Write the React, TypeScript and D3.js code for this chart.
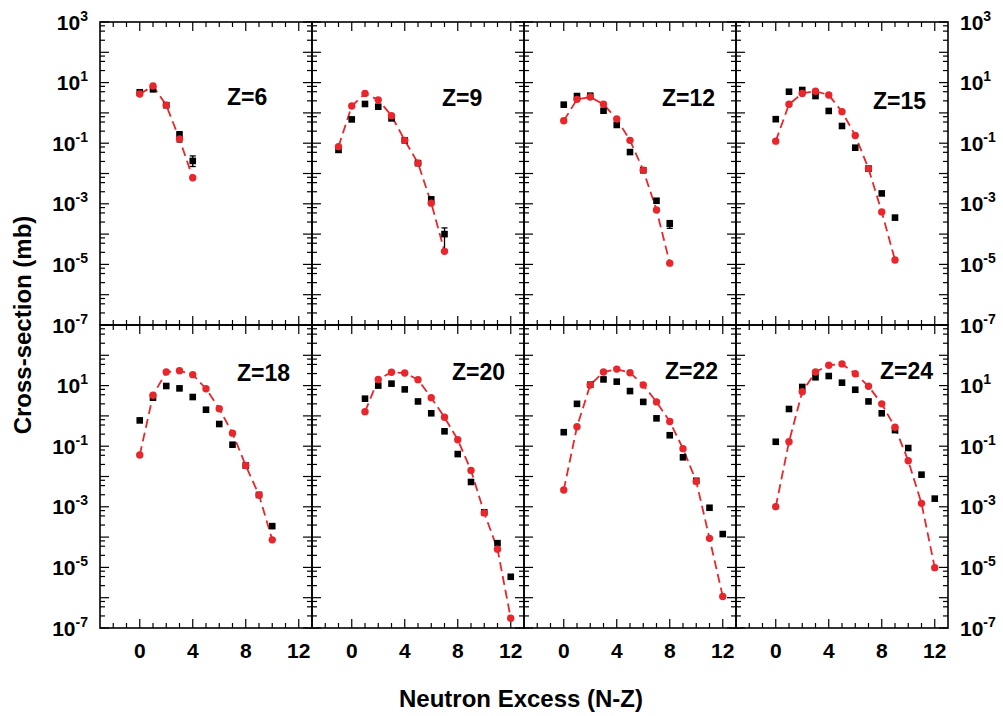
import React from "react";
import * as d3 from "d3";

// ---------- data ----------
const zLabels = [6, 9, 12, 15, 18, 20, 22, 24];
const startN = [0, -1, 0, 0, 0, 1, 0, 0];

const expZ6 = [4.8, 6.0, 1.8, 0.19, 0.026];
const calcZ6 = [4.2, 7.7, 1.8, 0.138, 0.0072];
const expZ9 = [0.06, 0.61, 1.97, 1.6, 0.66, 0.124, 0.022, 0.0014, 1.0e-4];
const calcZ9 = [0.077, 1.69, 4.4, 2.7, 0.81, 0.124, 0.022, 0.00105, 2.7e-5];
const expZ12 = [1.87, 3.6, 3.7, 1.18, 0.4, 0.051, 0.0128, 0.00126, 2.2e-4];
const calcZ12 = [0.55, 2.8, 3.35, 1.92, 0.63, 0.124, 0.0128, 6.3e-4, 1.1e-5];
const expZ15 = [0.62, 5.0, 5.7, 3.6, 1.16, 0.37, 0.071, 0.0145, 0.0022, 3.5e-4];
const calcZ15 = [0.117, 1.92, 4.4, 5.2, 3.9, 1.1, 0.18, 0.0145, 5.4e-4, 1.4e-5];
const expZ18 = [0.71, 4.0, 9.7, 8.1, 4.2, 1.6, 0.54, 0.112, 0.023, 0.00246, 2.3e-4];
const calcZ18 = [0.051, 4.8, 28, 31, 23, 7.9, 1.73, 0.27, 0.023, 0.00246, 8.1e-5];
const expZ20 = [3.7, 10, 11.6, 7.5, 3.0, 1.22, 0.31, 0.055, 0.0066, 6.6e-4, 6.3e-5, 4.9e-6];
const calcZ20 = [1.38, 16, 27.6, 26, 15.7, 4.0, 0.9, 0.164, 0.0159, 6.3e-4, 4e-5, 2.1e-7];
const expZ22 = [0.29, 2.5, 10.7, 16, 13.5, 6.6, 2.9, 0.83, 0.23, 0.043, 0.0072, 9.3e-4, 1.26e-4];
const calcZ22 = [0.0036, 0.44, 10.5, 28, 35, 26.7, 10.5, 2.9, 0.65, 0.083, 0.0069, 9.1e-5, 1.1e-6];
const expZ24 = [0.14, 1.69, 9.0, 18.8, 20.7, 12.5, 7.3, 3.0, 1.22, 0.34, 0.087, 0.0115, 0.00186];
const calcZ24 = [0.001, 0.14, 6.3, 28, 47, 52, 24.7, 9.5, 2.5, 0.42, 0.033, 0.0013, 9.8e-6];

const expSeries = [expZ6, expZ9, expZ12, expZ15, expZ18, expZ20, expZ22, expZ24];
const calcSeries = [calcZ6, calcZ9, calcZ12, calcZ15, calcZ18, calcZ20, calcZ22, calcZ24];

// error bars: [panel, N, low, high]
const errorBars: [number, number, number, number][] = [
  [0, 3, 0.11, 0.24],
  [0, 4, 0.017, 0.038],
  [1, -1, 0.05, 0.072],
  [1, 7, 3e-5, 1.6e-4],
  [2, 8, 1.55e-4, 2.8e-4],
];

const xTickMajor = [0, 4, 8, 12];
const xTickMinor = d3.range(-2, 13);
const yDecadesTop = [3, 1, -1, -3, -5, -7];
const yDecadesBottom = [1, -1, -3, -5, -7];
const xDomain = [-3, 13];
const yDomain = [1e-7, 1e3];

// ---------- layout ----------
const W = 1003;
const H = 716;
const plotLeft = 100;
const panelW = 212;
const plotTop = 22;
const panelH = 303;
const labelDx = [127, 130, 138, 137, 137, 140, 141, 144];
const labelBase = [105, 106, 106, 109, 381, 380, 379, 379];
const RED = "#e8262b";
const FONT = "'Liberation Sans', Arial, Helvetica, sans-serif";

function Panel({ idx }: { idx: number }) {
  const col = idx % 4;
  const row = Math.floor(idx / 4);
  const x0 = plotLeft + col * panelW;
  const y0 = plotTop + row * panelH;
  const x = d3.scaleLinear().domain(xDomain).range([x0, x0 + panelW]);
  const y = d3.scaleLog().domain(yDomain).range([y0 + panelH, y0]);
  const exp = expSeries[idx];
  const calc = calcSeries[idx];
  const s = startN[idx];
  const calcPts = calc.map((v, i) => [s + i, v] as [number, number]);
  const expPts = exp.map((v, i) => [s + i, v] as [number, number]);
  const line = d3
    .line<[number, number]>()
    .x((d) => x(d[0]))
    .y((d) => y(d[1]));

  const yMinor: number[] = [];
  for (let e = -7; e < 3; e++) {
    [2.5, 5, 7.5].forEach((m) => yMinor.push(m * Math.pow(10, e)));
  }
  const yMajor = d3.range(-7, 4).map((e) => Math.pow(10, e));
  const L = 9;
  const l = 5;
  const xl = x0;
  const xr = x0 + panelW;
  const yt = y0;
  const yb = y0 + panelH;

  return (
    <g>
      <g stroke="#000" strokeWidth={1.2}>
        {yMajor.map((v, i) => (
          <g key={"ym" + i}>
            <line x1={xl} x2={xl + L} y1={y(v)} y2={y(v)} />
            <line x1={xr} x2={xr - L} y1={y(v)} y2={y(v)} />
          </g>
        ))}
        {yMinor.map((v, i) => (
          <g key={"yn" + i}>
            <line x1={xl} x2={xl + l} y1={y(v)} y2={y(v)} />
            <line x1={xr} x2={xr - l} y1={y(v)} y2={y(v)} />
          </g>
        ))}
        {xTickMinor.map((v) => {
          const len = xTickMajor.includes(v) ? L : l;
          return (
            <g key={"x" + v}>
              <line x1={x(v)} x2={x(v)} y1={yb} y2={yb - len} />
              <line x1={x(v)} x2={x(v)} y1={yt} y2={yt + len} />
            </g>
          );
        })}
      </g>
      <rect x={xl} y={yt} width={panelW} height={panelH} fill="none" stroke="#000" strokeWidth={1.6} />
      <path d={line(calcPts) || ""} fill="none" stroke={RED} strokeWidth={1.8} strokeDasharray="9,5" />
      {errorBars
        .filter((e) => e[0] === idx)
        .map((e, i) => (
          <g key={"e" + i} stroke="#000" strokeWidth={1.3}>
            <line x1={x(e[1])} x2={x(e[1])} y1={y(e[2])} y2={y(e[3])} />
            <line x1={x(e[1]) - 3} x2={x(e[1]) + 3} y1={y(e[2])} y2={y(e[2])} />
            <line x1={x(e[1]) - 3} x2={x(e[1]) + 3} y1={y(e[3])} y2={y(e[3])} />
          </g>
        ))}
      {expPts.map((d, i) => (
        <rect key={"s" + i} x={x(d[0]) - 3.3} y={y(d[1]) - 3.3} width={6.6} height={6.6} fill="#000" />
      ))}
      {calcPts.map((d, i) => (
        <circle key={"c" + i} cx={x(d[0])} cy={y(d[1])} r={3.7} fill={RED} />
      ))}
      <text x={x0 + labelDx[idx]} y={labelBase[idx]} fontFamily={FONT} fontWeight="bold" fontSize={23} fill="#000">
        {"Z=" + zLabels[idx]}
      </text>
      {row === 1 &&
        xTickMajor.map((v) => (
          <text key={"xl" + v} x={x(v)} y={658} textAnchor="middle" fontFamily={FONT} fontWeight="bold" fontSize={21}>
            {v}
          </text>
        ))}
    </g>
  );
}

function YLabels({ row }: { row: number }) {
  const y0 = plotTop + row * panelH;
  const y = d3.scaleLog().domain(yDomain).range([y0 + panelH, y0]);
  const decs = row === 0 ? yDecadesTop : yDecadesBottom;
  return (
    <g fontFamily={FONT} fontWeight="bold" fontSize={21}>
      {decs.map((e) => (
        <g key={e}>
          <text x={88} y={y(Math.pow(10, e)) + 7.5} textAnchor="end">
            10<tspan dy={-9} fontSize={14}>{e}</tspan>
          </text>
          <text x={960} y={y(Math.pow(10, e)) + 7.5} textAnchor="start">
            10<tspan dy={-9} fontSize={14}>{e}</tspan>
          </text>
        </g>
      ))}
    </g>
  );
}

export default function App() {
  return (
    <svg width={W} height={H} style={{ display: "block", position: "absolute", left: 0, top: 0, background: "#fff" }}>
      <rect width={W} height={H} fill="#fff" />
      {zLabels.map((_, i) => (
        <Panel key={i} idx={i} />
      ))}
      <YLabels row={0} />
      <YLabels row={1} />
      <text x={521} y={707} textAnchor="middle" fontFamily={FONT} fontWeight="bold" fontSize={24}>
        Neutron Excess (N-Z)
      </text>
      <text
        transform={`translate(31, ${plotTop + panelH}) rotate(-90)`}
        textAnchor="middle"
        fontFamily={FONT}
        fontWeight="bold"
        fontSize={24}
      >
        Cross-section (mb)
      </text>
    </svg>
  );
}
